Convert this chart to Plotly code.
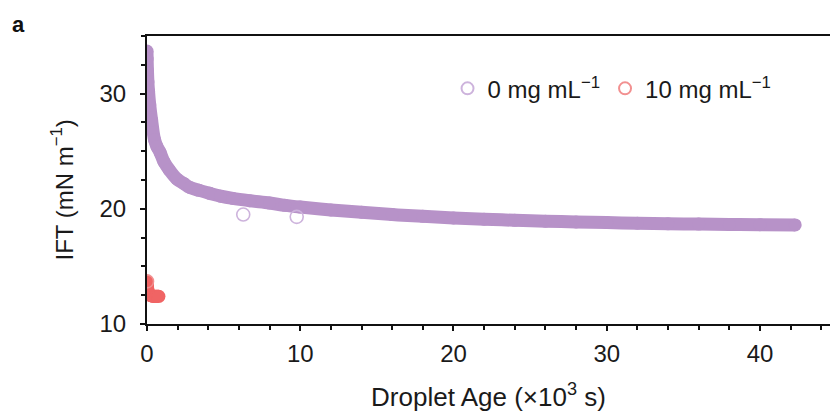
import plotly.graph_objects as go

# Purple series: 0 mg/mL (droplet age in 10^3 s, IFT in mN/m)
age_0 = [0, 0.01, 0.03, 0.06, 0.1, 0.18, 0.3, 0.49, 0.65, 0.85, 1.1, 1.44, 1.94, 2.4, 2.8,
         3.4, 4.1, 4.8, 5.6, 6.7, 8.0, 9.0, 10, 12, 14, 16, 18, 20, 22, 24, 26, 28, 30,
         32, 34, 36, 38, 40, 42.3]
ift_0 = [33.7, 33.0, 32.0, 31.0, 30.2, 29.0, 27.7, 26.0, 25.4, 24.9, 24.1, 23.4, 22.6, 22.2, 21.85,
         21.6, 21.34, 21.1, 20.9, 20.7, 20.5, 20.3, 20.15, 19.9, 19.7, 19.5, 19.35, 19.2, 19.1, 19.0,
         18.93, 18.86, 18.8, 18.75, 18.7, 18.67, 18.64, 18.62, 18.6]
# isolated outlier points of the purple series
age_0_out = [6.28, 9.77]
ift_0_out = [19.5, 19.3]

# Red series: 10 mg/mL
age_10 = [0, 0.02, 0.04, 0.06, 0.1, 0.15, 0.2, 0.3, 0.4, 0.5, 0.6, 0.7, 0.78]
ift_10 = [13.7, 13.4, 13.1, 12.9, 12.7, 12.6, 12.5, 12.45, 12.4, 12.4, 12.4, 12.4, 12.4]

x_ticks = [0, 10, 20, 30, 40]
y_ticks = [10, 20, 30]

PURPLE = "#b792c8"
RED = "#f06464"
FONT = "Liberation Sans, Arial, sans-serif"
BAND = 13

fig = go.Figure()

# dense band of overlapping markers (purple)
fig.add_trace(go.Scatter(
    x=age_0, y=ift_0, mode="lines+markers",
    line=dict(color=PURPLE, width=BAND, shape="spline"),
    marker=dict(symbol="circle", size=BAND, color=PURPLE, line=dict(width=0)),
    showlegend=False, hoverinfo="skip", legendgroup="a"))
fig.add_trace(go.Scatter(
    x=age_0_out, y=ift_0_out, mode="markers",
    marker=dict(symbol="circle-open", size=13, color="#cdb3dc", line=dict(width=1.6)),
    name="0 mg mL<sup>−1</sup>", legendgroup="a"))

# red band
fig.add_trace(go.Scatter(
    x=age_10, y=ift_10, mode="lines+markers",
    line=dict(color=RED, width=BAND, shape="spline"),
    marker=dict(symbol="circle", size=BAND, color=RED, line=dict(width=0)),
    showlegend=False, hoverinfo="skip", legendgroup="b"))
fig.add_trace(go.Scatter(
    x=age_10[:1], y=ift_10[:1], mode="markers",
    marker=dict(symbol="circle-open", size=13, color="#f29090", line=dict(width=1.6)),
    name="10 mg mL<sup>−1</sup>", legendgroup="b"))

fig.update_layout(
    width=830, height=412,
    margin=dict(l=147, r=0, t=36, b=88),
    paper_bgcolor="white", plot_bgcolor="white",
    font=dict(family=FONT, size=22, color="#1a1a1a"),
    showlegend=True,
    legend=dict(orientation="h", x=0.44, y=0.895, xanchor="left", yanchor="top",
                font=dict(size=24), bgcolor="rgba(0,0,0,0)", itemsizing="constant",
                traceorder="normal"),
    xaxis=dict(range=[0, 44.57], tickvals=x_ticks, ticktext=[str(v) for v in x_ticks],
               showgrid=False, zeroline=False, showline=True, linecolor="#111", linewidth=2,
               mirror=True, ticks="outside", ticklen=5, tickwidth=1.5, tickcolor="#111",
               minor=dict(dtick=2, ticks="outside", ticklen=4, tickwidth=1.5, tickcolor="#111"),
               title=dict(text="Droplet Age (×10<sup>3</sup> s)", standoff=26),
               ticklabelstandoff=2, tickfont=dict(size=24), automargin=False),
    yaxis=dict(range=[10, 35], tickvals=y_ticks, ticktext=[str(v) for v in y_ticks],
               showgrid=False, zeroline=False, showline=True, linecolor="#111", linewidth=2,
               ticks="outside", ticklen=5, tickwidth=1.5, tickcolor="#111",
               minor=dict(dtick=2.5, ticks="outside", ticklen=4, tickwidth=1.5, tickcolor="#111"),
               ticklabelstandoff=9, tickfont=dict(size=24), automargin=False),
    annotations=[
        dict(text="<b>a</b>", x=-0.2006, y=1.04, xref="paper", yref="paper",
             xanchor="left", yanchor="middle", showarrow=False,
             font=dict(size=22, color="#111")),
        dict(text="IFT (mN m<sup>−1</sup>)", x=-0.1245, y=0.467, xref="paper", yref="paper",
             xanchor="center", yanchor="middle", textangle=-90, showarrow=False,
             font=dict(size=24, color="#1a1a1a")),
    ],
)

fig.write_html("out.html", config={"displayModeBar": False},
               post_script="document.body.style.margin='0';")
